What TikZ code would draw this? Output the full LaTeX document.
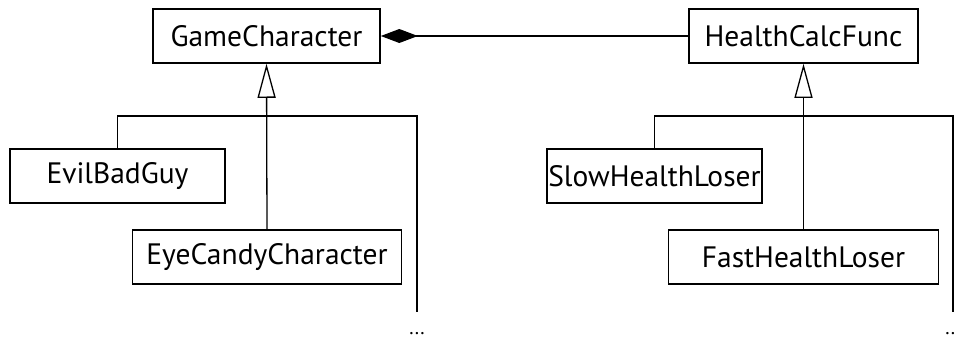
\documentclass[tikz,border=0pt]{standalone}
\usepackage{fontspec}
\setmainfont{PT Sans}
\usetikzlibrary{arrows.meta}
\begin{document}
\begin{tikzpicture}[x=1pt,y=1pt,
  cls/.style={draw, line width=1.6pt, inner sep=0pt, minimum height=54pt, font=\fontsize{29.5}{32}\selectfont},
  conn/.style={line width=1.3pt},
  inh/.style={conn, -{Triangle[open,length=34pt,width=18pt,line width=1.3pt]}},
  comp/.style={conn, -{Diamond[length=37pt,width=14pt]}},
  dots/.style={font=\fontsize{20}{22}\selectfont, inner sep=0pt}]
\useasboundingbox (0,0) rectangle (957,-340);
\node[cls, minimum width=227pt] (GC) at (266.5,-36) {GameCharacter};
\node[cls, minimum width=229pt] (HCF) at (803.5,-36) {HealthCalcFunc};
\node[cls, minimum width=215pt] (EBG) at (117.5,-176) {EvilBadGuy};
\node[cls, minimum width=269pt] (ECC) at (267,-257) {EyeCandyCharacter};
\node[cls, minimum width=215pt] (SHL) at (654.5,-176) {SlowHealthLoser};
\node[cls, minimum width=270pt] (FHL) at (803.5,-257) {FastHealthLoser};
\draw[comp] (HCF.west) -- (GC.east);
\draw[inh] (ECC.north) -- (GC.south);
\draw[inh] (FHL.north) -- (HCF.south);
\coordinate (r1) at (417,-116);
\coordinate (d1) at (417,-312);
\coordinate (r2) at (953,-116);
\coordinate (d2) at (953,-312);
\draw[conn] (EBG.north) |- (r1) -- (d1);
\draw[conn] (SHL.north) |- (r2) -- (d2);
\node[dots] (e1) at (417,-334) {...};
\node[dots] (e2) at (953,-334) {...};
\end{tikzpicture}
\end{document}
